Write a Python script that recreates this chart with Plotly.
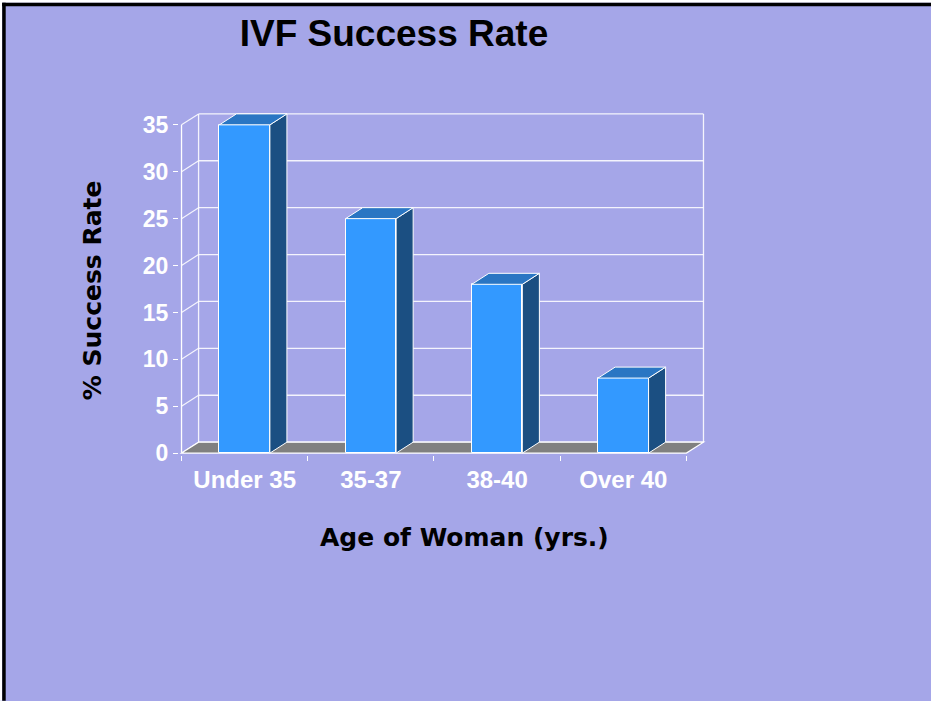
import plotly.graph_objects as go

# ---------------- data ----------------
categories = ["Under 35", "35-37", "38-40", "Over 40"]
success_rate = [35, 25, 18, 8]
y_ticks = [0, 5, 10, 15, 20, 25, 30, 35]
title_text = "IVF Success Rate"
y_title = "% Success Rate"
x_title = "Age of Woman (yrs.)"

# ---------------- style ----------------
BG = "#A5A6E8"
FRONT = "#3399FF"
SIDE = "#1B4F82"
TOP = "#2A76C3"
FLOOR = "#808080"
GRID = "rgba(255,255,255,0.88)"
BAR_W = 0.4
DX = 0.135          # depth offset in category units
DY = 1.17           # depth offset in value units
Y_MAX = max(y_ticks)

FIG_W, FIG_H = 931, 701
PX_PER_CAT = 126.0
PX_PER_UNIT = 9.38
X0_PX = 182.0       # pixel of front-left corner
Y0_PX = 453.3       # pixel of value 0 on front plane
PADX, PADY = 0.02, 0.2

n = len(categories)
x_lo, x_hi = -0.5 - PADX, n - 0.5 + DX + PADX
y_lo, y_hi = -PADY, Y_MAX + DY + PADY
L = X0_PX - PADX * PX_PER_CAT
W = (x_hi - x_lo) * PX_PER_CAT
B_px = Y0_PX + PADY * PX_PER_UNIT
H = (y_hi - y_lo) * PX_PER_UNIT
T = B_px - H


def px_x(p):
    return (p - L) / W


def px_y(p):
    return (B_px - p) / H


fig = go.Figure()

# front faces
fig.add_trace(go.Bar(
    x=list(range(n)), y=success_rate, width=BAR_W,
    marker=dict(color=FRONT, line=dict(color="white", width=1)),
    hoverinfo="x+y", showlegend=False,
))

# side & top faces
sx, sy, tx, ty = [], [], [], []
for i, v in enumerate(success_rate):
    r = i + BAR_W / 2
    l = i - BAR_W / 2
    sx += [r, r + DX, r + DX, r, r, None]
    sy += [0, DY, v + DY, v, 0, None]
    tx += [l, r, r + DX, l + DX, l, None]
    ty += [v, v, v + DY, v + DY, v, None]
fig.add_trace(go.Scatter(x=sx, y=sy, fill="toself", fillcolor=SIDE, mode="lines",
                         line=dict(color="white", width=1), hoverinfo="skip", showlegend=False))
fig.add_trace(go.Scatter(x=tx, y=ty, fill="toself", fillcolor=TOP, mode="lines",
                         line=dict(color="white", width=1), hoverinfo="skip", showlegend=False))

# invisible trace to carry the boundary tick axis
fig.add_trace(go.Scatter(x=[-0.5, n - 0.5], y=[0, 0], xaxis="x2", mode="lines",
                         line=dict(width=0), opacity=0, hoverinfo="skip", showlegend=False))

shapes = []
# back wall gridlines + left wall diagonals
for v in y_ticks:
    shapes.append(dict(type="line", xref="x", yref="y", layer="below",
                       x0=-0.5 + DX, x1=n - 0.5 + DX, y0=v + DY, y1=v + DY,
                       line=dict(color=GRID, width=1.3)))
    shapes.append(dict(type="line", xref="x", yref="y", layer="below",
                       x0=-0.5, x1=-0.5 + DX, y0=v, y1=v + DY,
                       line=dict(color=GRID, width=1.2)))
# back wall verticals
for xb in (-0.5 + DX, n - 0.5 + DX):
    shapes.append(dict(type="line", xref="x", yref="y", layer="below",
                       x0=xb, x1=xb, y0=DY, y1=Y_MAX + DY,
                       line=dict(color=GRID, width=1.3)))
# front y axis line
shapes.append(dict(type="line", xref="x", yref="y", layer="below",
                   x0=-0.5, x1=-0.5, y0=0, y1=Y_MAX,
                   line=dict(color="white", width=1.3)))
# floor
shapes.append(dict(type="path", xref="x", yref="y", layer="below",
                   path=f"M {-0.5},0 L {n-0.5},0 L {n-0.5+DX},{DY} L {-0.5+DX},{DY} Z",
                   fillcolor=FLOOR, line=dict(color="white", width=1.2)))

# slide frame (paper coords)
shapes.append(dict(type="rect", xref="paper", yref="paper", layer="above",
                   x0=px_x(0), x1=px_x(3), y0=px_y(FIG_H), y1=px_y(0),
                   fillcolor="white", line=dict(width=0)))
shapes.append(dict(type="rect", xref="paper", yref="paper", layer="above",
                   x0=px_x(0), x1=px_x(FIG_W), y0=px_y(3), y1=px_y(0),
                   fillcolor="white", line=dict(width=0)))
shapes.append(dict(type="rect", xref="paper", yref="paper", layer="above",
                   x0=px_x(3), x1=px_x(6.5), y0=px_y(FIG_H), y1=px_y(3),
                   fillcolor="black", line=dict(width=0)))
shapes.append(dict(type="rect", xref="paper", yref="paper", layer="above",
                   x0=px_x(3), x1=px_x(FIG_W), y0=px_y(6.5), y1=px_y(3),
                   fillcolor="black", line=dict(width=0)))

axis_title_font = dict(family="DejaVu Sans", size=25, color="black", weight="bold")
annotations = [
    dict(text=x_title, xref="paper", yref="paper",
         x=px_x(464), y=px_y(538), xanchor="center", yanchor="middle",
         showarrow=False, font=axis_title_font),
    dict(text=y_title, xref="paper", yref="paper",
         x=px_x(93), y=px_y(290), xanchor="center", yanchor="middle", textangle=-90,
         showarrow=False, font=axis_title_font),
]

xtickfont = dict(family="Liberation Sans", size=24, color="white", weight="bold")
ytickfont = dict(family="Liberation Sans", size=23, color="white", weight="bold")

fig.update_layout(
    width=FIG_W, height=FIG_H,
    margin=dict(l=L, r=FIG_W - L - W, t=T, b=FIG_H - B_px, pad=0),
    paper_bgcolor=BG, plot_bgcolor=BG,
    title=dict(text=title_text, x=394 / FIG_W, xanchor="center",
               y=1 - 33 / FIG_H, yanchor="middle", xref="container", yref="container",
               font=dict(family="Liberation Sans", size=37, color="black", weight="bold")),
    xaxis=dict(range=[x_lo, x_hi], tickvals=list(range(n)), ticktext=categories,
               showgrid=False, zeroline=False, showline=False, ticks="",
               tickfont=xtickfont, ticklabelstandoff=8, fixedrange=True),
    xaxis2=dict(range=[x_lo, x_hi], overlaying="x", side="bottom", anchor="y",
                tickvals=[i - 0.5 for i in range(n + 1)], showticklabels=False,
                ticks="outside", ticklen=5, tickcolor="white", tickwidth=1.3,
                showgrid=False, zeroline=False, showline=False, fixedrange=True),
    yaxis=dict(range=[y_lo, y_hi], tickvals=y_ticks, showgrid=False, zeroline=False,
               showline=False, ticks="outside", ticklen=5, tickcolor="white", tickwidth=1.3,
               tickfont=ytickfont, fixedrange=True),
    shapes=shapes, annotations=annotations, showlegend=False, bargap=0,
)

fig.write_html(
    "out.html",
    config={"displayModeBar": False},
    post_script="document.body.style.margin='0px';document.documentElement.style.overflow='hidden';",
)
